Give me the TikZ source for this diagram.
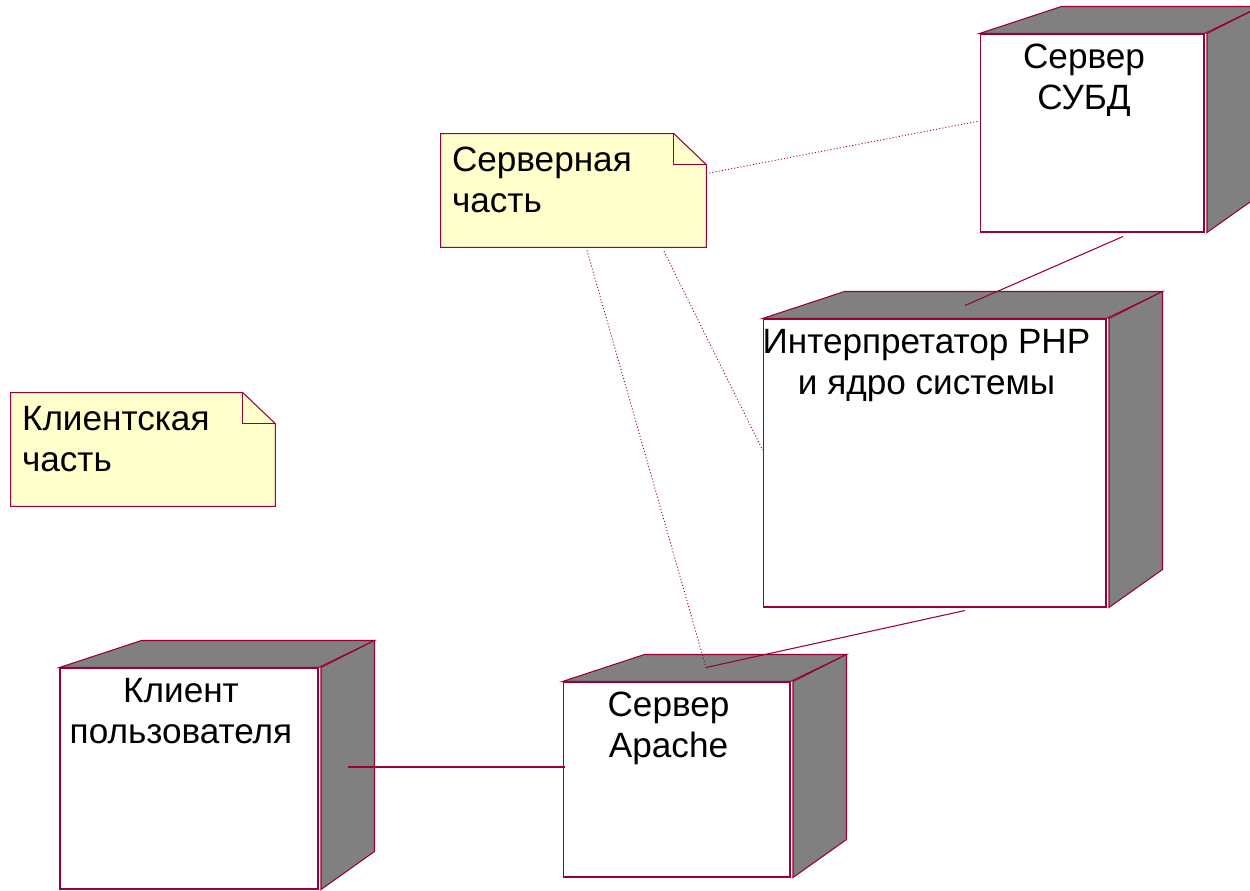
\documentclass[tikz,border=0pt]{standalone}
\usepackage{fontspec}
\setmainfont{Liberation Sans}
\definecolor{rosered}{RGB}{153,0,51}
\definecolor{facegray}{RGB}{128,128,128}
\definecolor{noteyellow}{RGB}{255,255,204}

\begin{document}
\begin{tikzpicture}[
    x=0.02cm, y=-0.02cm,
    device/.style={rectangle, draw=rosered, fill=white, line width=0.6pt, inner sep=0pt,
        append after command={\pgfextra{
            \edef\devname{\tikzlastnode}
            \filldraw[fill=facegray, draw=rosered, line width=0.6pt]
                (\devname.north west) -- ++(1.64cm,0.54cm)
                -- ([shift={(1.12cm,0.54cm)}]\devname.north east)
                -- (\devname.north east) -- cycle;
            \filldraw[fill=facegray, draw=rosered, line width=0.6pt]
                ([xshift=0.05cm]\devname.north east) -- ++(1.07cm,0.54cm)
                -- ([shift={(1.12cm,0.76cm)}]\devname.south east)
                -- ([xshift=0.05cm]\devname.south east) -- cycle;
        }}},
    devtext/.style={anchor=north, align=center, inner sep=0pt, xshift=-0.16cm, yshift=-0.2cm,
        font=\fontsize{20}{23.5}\selectfont},
    notebox/.style={rectangle, inner sep=0pt,
        append after command={\pgfextra{
            \edef\notename{\tikzlastnode}
            \filldraw[fill=noteyellow, draw=rosered, line width=0.6pt]
                (\notename.north west) -- ([xshift=-0.65cm]\notename.north east)
                -- ([yshift=-0.62cm]\notename.north east) -- (\notename.south east)
                -- (\notename.south west) -- cycle;
            \draw[rosered, line width=0.6pt] ([xshift=-0.65cm]\notename.north east) |- ([yshift=-0.62cm]\notename.north east);
        }}},
    notetext/.style={anchor=north west, align=left, inner sep=0pt, xshift=0.22cm, yshift=-0.26cm,
        font=\fontsize{20}{23.5}\selectfont},
    link/.style={draw=rosered, line width=0.6pt},
    dotlink/.style={draw=rosered, line width=0.5pt, dash pattern=on 0.6pt off 1.2pt}
]
\useasboundingbox (0,0) rectangle (1250,891);

% nodes
\node[device, minimum width=4.48cm, minimum height=3.96cm,
    label={[devtext]north:Сервер\\СУБД}] (dbms) at (1092,133) {};
\node[device, minimum width=6.86cm, minimum height=5.76cm,
    label={[devtext]north:Интерпретатор PHP\\и ядро системы}] (php) at (934.5,463) {};
\node[device, minimum width=5.16cm, minimum height=4.42cm,
    label={[devtext]north:Клиент\\пользователя}] (client) at (189,778.5) {};
\node[device, minimum width=4.54cm, minimum height=3.90cm,
    label={[devtext]north:Сервер\\Apache}] (apache) at (676.5,779.5) {};

% notes
\node[notebox, minimum width=5.30cm, minimum height=2.26cm,
    label={[notetext]north west:Серверная\\часть}] (servnote) at (573.5,190.5) {};
\node[notebox, minimum width=5.28cm, minimum height=2.26cm,
    label={[notetext]north west:Клиентская\\часть}] (clientnote) at (143,449.5) {};

% links
\draw[link] ([shift={(0.62cm,-0.08cm)}]dbms.south) -- ([shift={(0.61cm,0.26cm)}]php.north);
\draw[link] ([shift={(0.61cm,-0.06cm)}]php.south) -- ([shift={(0.59cm,0.28cm)}]apache.north);
\draw[link] ([shift={(0.58cm,0.23cm)}]client.east) -- ([shift={(0.04cm,0.25cm)}]apache.west);

% note anchors
\draw[dotlink] ([shift={(0.06cm,0.35cm)}]servnote.east) -- ([yshift=0.24cm]dbms.west);
\draw[dotlink] ([shift={(0.27cm,-0.06cm)}]servnote.south) -- ([shift={(0.59cm,0.28cm)}]apache.north);
\draw[dotlink] ([shift={(1.81cm,-0.08cm)}]servnote.south) -- ([yshift=0.26cm]php.west);

\end{tikzpicture}
\end{document}
